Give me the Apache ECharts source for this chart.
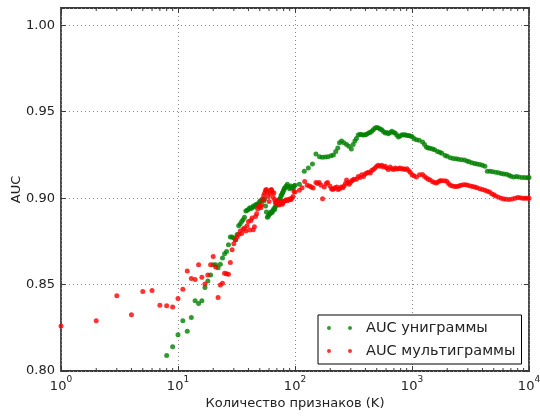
<!DOCTYPE html>
<html>
<head>
<meta charset="utf-8">
<script src="https://cdn.jsdelivr.net/npm/echarts@6/dist/echarts.min.js"></script>
<style>
  html, body { margin: 0; padding: 0; background: #fff; }
  #chart { width: 540px; height: 416px; }
</style>
</head>
<body>
<div id="chart"></div>
<script>
// AUC as a function of the number of features K (log scale)
const unigramK = [8,9,10,11,12,13,14,15,16,17,18,19,20,21,22,23,24,25,26,27,28,29,30,31,32,33,34,35,36,37,38,39,40,41,42,43,44,45,46,47,48,49,50,51,52,53,54,55,56,57,58,59,60,61,62,63,64,65,66,67,68,69,70,71,72,73,74,75,76,77,78,79,80,81,82,84,86,88,90,92,94,96,98,100,
  109,120,130,141,151,162,171,181,191,203,213,223,232,240,250,262,276,289,303,314,325,335,347,360,372,385,398,410,425,438,452,467,483,500,516,534,552,570,590,608,628,650,673,695,718,740,765,790,820,845,873,905,935,965,
  1000,1040,1090,1150,1230,1280,1330,1380,1430,1500,1560,1650,1730,1800,1920,2000,2130,2250,2380,2500,2650,2800,2950,3080,3250,3430,3600,3800,4000,4200,4400,4650,4900,5200,5500,5800,6100,6420,6750,7000,7400,7800,8200,8700,9200,9700,10000];
const unigramAUC = [.809,.814,.821,.829,.823,.831,.8407,.839,.8407,.8483,.852,.8556,.8614,.8614,.8598,.8618,.8653,.8678,.8691,.873,.8775,.8775,.877,.876,.879,.884,.885,.8865,.8875,.889,.8925,.893,.8935,.8945,.894,.8945,.8955,.895,.896,.8965,.896,.897,.898,.8985,.899,.8995,.8985,.8995,.8955,.892,.889,.8895,.8905,.891,.892,.8915,.892,.893,.894,.8935,.895,.896,.8965,.8975,.8985,.899,.8995,.900,.9015,.902,.903,.9035,.9045,.9055,.906,.907,.908,.9065,.9055,.907,.906,.9058,.907,.9075,
  .908,.9155,.9174,.9197,.9255,.924,.9236,.9238,.924,.9245,.925,.927,.929,.932,.933,.932,.931,.930,.9285,.931,.933,.9345,.9365,.937,.9367,.9365,.9367,.937,.9377,.938,.9387,.9395,.9406,.9408,.9406,.940,.9396,.9385,.9377,.938,.9373,.938,.9387,.938,.9377,.9365,.9354,.936,.9367,.9365,.9367,.9363,.9362,.936,
  .9357,.9345,.9338,.9335,.9325,.931,.9294,.929,.9288,.9285,.928,.927,.9265,.926,.9247,.9242,.9234,.923,.9228,.9225,.9222,.922,.9215,.921,.9205,.920,.9198,.9195,.919,.9185,.9155,.9155,.9153,.915,.9147,.9143,.914,.9138,.9132,.9126,.9122,.9125,.9122,.912,.912,.9118,.912];

const multigramK = [1,2,3,4,5,6,7,8,9,10,11,12,13,14,15,16,17,18,19,20,21,22,23,24,25,26,27,28,29,30,31,32,33,34,35,36,37,38,39,40,41,42,43,44,45,46,47,48,49,50,51,52,53,54,55,56,57,58,59,60,61,62,63,64,65,66,67,68,69,70,71,72,73,74,75,76,77,78,79,80,82,84,86,88,90,92,94,96,98,100,
  109,115,121,127,133,138,143,151,156,161,167,172,178,185,190,199,205,210,215,220,228,233,240,248,256,263,270,276,283,290,297,305,313,320,335,347,360,372,385,398,410,425,440,452,467,483,500,516,534,552,570,590,608,628,650,673,695,718,740,765,790,820,845,873,905,935,965,
  1000,1040,1090,1160,1230,1280,1330,1380,1430,1500,1560,1620,1680,1740,1800,1900,1980,2050,2130,2220,2320,2420,2520,2620,2750,2880,3000,3150,3300,3450,3600,3800,4000,4200,4400,4600,4800,5000,5200,5500,5800,6100,6400,6800,7200,7600,8000,8400,8800,9200,9600,10000];
const multigramAUC = [.826,.829,.8435,.8326,.846,.8465,.838,.8377,.837,.842,.8473,.8578,.8535,.8529,.8614,.8543,.8504,.8556,.8614,.8662,.8601,.8425,.8498,.8508,.8566,.8562,.856,.8628,.8701,.8736,.876,.8775,.879,.881,.8795,.882,.8827,.881,.884,.8865,.8815,.887,.8885,.8817,.8835,.8894,.891,.8937,.895,.8955,.8945,.8962,.899,.9015,.903,.9045,.905,.9035,.901,.898,.9025,.9045,.905,.9035,.9005,.903,.899,.8975,.897,.8985,.8975,.897,.896,.8965,.8975,.898,.897,.8965,.8975,.898,.8985,.899,.8985,.899,.8995,.899,.900,.901,.9039,.9035,
  .9045,.906,.9097,.9075,.907,.9065,.9058,.909,.9085,.909,.9075,.8997,.9065,.9085,.909,.907,.9055,.905,.9055,.906,.9065,.905,.9055,.9065,.906,.907,.9085,.9105,.909,.908,.909,.910,.9105,.911,.911,.9125,.912,.9135,.9125,.914,.9145,.915,.9145,.916,.9165,.9175,.9185,.919,.9185,.919,.918,.9185,.9175,.9165,.918,.917,.9165,.9175,.9168,.917,.9175,.9168,.917,.9165,.917,.916,.915,
  .9135,.913,.9122,.9135,.9137,.9125,.9117,.911,.9105,.9095,.909,.9087,.9095,.910,.910,.910,.9098,.9085,.9075,.907,.9068,.9068,.907,.9075,.9078,.9077,.9075,.907,.9068,.9065,.906,.9055,.905,.9045,.904,.9035,.9025,.902,.9012,.9005,.900,.8995,.8993,.8992,.8995,.900,.9003,.9002,.8999,.900,.900,.900];

const seriesNames = ['AUC униграммы', 'AUC мультиграммы'];
const seriesColors = ['#008000', '#ff0000'];

const X_MIN = 1, X_MAX = 10000;
const Y_MIN = 0.80, Y_MAX = 1.01, Y_STEP = 0.05;

// minor tick positions of the log axis: 2..9 within each decade
const minorTicks = [];
for (let d = 1; d < X_MAX; d *= 10) {
  for (let m = 2; m <= 9; m++) minorTicks.push(d * m);
}

const FONT = 'DejaVu Sans';
const TEXT = '#222';
const FRAME = '#3a3a3a';

const zip = (xs, ys) => xs.map((x, i) => [x, ys[i]]);

const chart = echarts.init(document.getElementById('chart'), null, { renderer: 'canvas' });

const logLabel = v => '{b|10}{s|' + Math.round(Math.log10(v)) + '}';
const yLabel = v => (Math.abs(v / Y_STEP - Math.round(v / Y_STEP)) < 1e-6 ? v.toFixed(2) : '');

chart.setOption({
  animation: false,
  backgroundColor: '#fff',
  textStyle: { fontFamily: FONT },
  grid: {
    left: 61, right: 11, top: 8, bottom: 45,
    outerBoundsMode: 'none', containLabel: false,
    show: true, borderColor: FRAME, borderWidth: 1.8, backgroundColor: '#fff'
  },
  legend: {
    data: seriesNames,
    orient: 'vertical',
    left: 318, top: 315,
    backgroundColor: '#fff',
    borderColor: '#000', borderWidth: 1, borderRadius: 0,
    padding: [5, 6, 5, 9],
    itemGap: 7,
    itemWidth: 25, itemHeight: 4,
    icon: 'path://M0,2a2,2 0 1,0 4,0a2,2 0 1,0 -4,0M21,2a2,2 0 1,0 4,0a2,2 0 1,0 -4,0',
    textStyle: { fontFamily: FONT, fontSize: 14.5, color: TEXT, lineHeight: 16, padding: [0, 0, 0, 9] }
  },
  xAxis: [
    {
      type: 'log', logBase: 10, min: X_MIN, max: X_MAX,
      name: 'Количество признаков (K)', nameLocation: 'middle', nameGap: 26, nameMoveOverlap: false,
      nameTextStyle: { fontFamily: FONT, fontSize: 13, color: TEXT },
      axisLine: { show: false },
      axisTick: { inside: true, length: 5, lineStyle: { color: FRAME } },
      axisLabel: {
        margin: 4, formatter: logLabel,
        rich: {
          b: { fontFamily: FONT, fontSize: 13, color: TEXT, lineHeight: 18, verticalAlign: 'bottom' },
          s: { fontFamily: FONT, fontSize: 9, color: TEXT, lineHeight: 10, verticalAlign: 'top' }
        }
      },
      splitLine: { show: true, lineStyle: { type: [1, 3], color: '#888', width: 1 } }
    },
    {
      type: 'log', logBase: 10, min: X_MIN, max: X_MAX, position: 'top',
      axisLine: { show: false },
      axisTick: { inside: true, length: 5, lineStyle: { color: FRAME } },
      axisLabel: { show: false },
      splitLine: { show: false }
    }
  ],
  yAxis: [
    {
      type: 'value', min: Y_MIN, max: Y_MAX, interval: Y_STEP,
      name: 'AUC', nameLocation: 'middle', nameGap: 38, nameMoveOverlap: false,
      nameTextStyle: { fontFamily: FONT, fontSize: 13, color: TEXT },
      axisLine: { show: false },
      axisTick: { inside: true, length: 5, lineStyle: { color: FRAME } },
      axisLabel: { formatter: yLabel, fontFamily: FONT, fontSize: 13, color: TEXT, margin: 6, showMaxLabel: false },
      splitLine: { show: true, lineStyle: { type: [1, 3], color: '#888', width: 1 } }
    },
    {
      type: 'value', min: Y_MIN, max: Y_MAX, interval: Y_STEP, position: 'right',
      axisLine: { show: false },
      axisTick: { inside: true, length: 5, lineStyle: { color: FRAME } },
      axisLabel: { show: false },
      splitLine: { show: false }
    }
  ],
  series: [
    {
      name: seriesNames[0], type: 'scatter', symbol: 'circle', symbolSize: 5,
      itemStyle: { color: seriesColors[0] },
      data: zip(unigramK, unigramAUC), z: 3
    },
    {
      name: seriesNames[1], type: 'scatter', symbol: 'circle', symbolSize: 5,
      itemStyle: { color: seriesColors[1] },
      data: zip(multigramK, multigramAUC), z: 4
    },
    {
      name: 'minor ticks', type: 'custom', silent: true, z: 5,
      data: minorTicks.map(k => [k, Y_MIN]),
      renderItem: (params, api) => {
        const k = api.value(0);
        const b = api.coord([k, Y_MIN]);
        const t = api.coord([k, Y_MAX]);
        const style = { stroke: FRAME, lineWidth: 1 };
        return {
          type: 'group',
          children: [
            { type: 'line', shape: { x1: b[0], y1: b[1], x2: b[0], y2: b[1] - 3 }, style },
            { type: 'line', shape: { x1: t[0], y1: t[1], x2: t[0], y2: t[1] + 3 }, style }
          ]
        };
      }
    }
  ]
});
</script>
</body>
</html>
